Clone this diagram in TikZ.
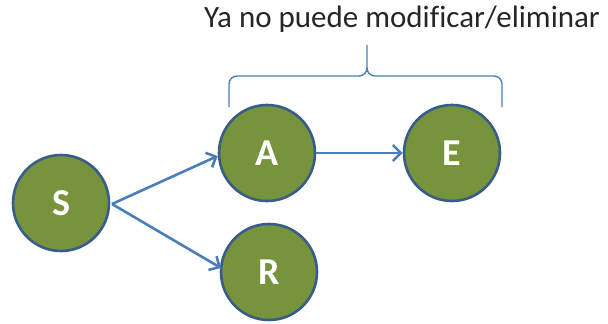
\documentclass[tikz,border=0pt]{standalone}
\usepackage{fontspec}
\setmainfont[Ligatures=NoCommon]{Carlito}
\usetikzlibrary{arrows.meta}
\definecolor{nodefill}{HTML}{77933C}
\definecolor{nodeline}{HTML}{385D8A}
\definecolor{arrowc}{HTML}{4A7EBB}
\tikzset{
  vert/.style={circle, fill=nodefill, draw=nodeline, line width=2.6pt, minimum size=96pt, inner sep=0pt, text=white, font=\bfseries\fontsize{38}{40}\selectfont},
  conn/.style={draw=arrowc, line width=2.6pt, -{Straight Barb[length=8pt,width=16pt,line width=2.6pt]}},
  bracec/.style={draw=arrowc, line width=1.4pt}
}
\begin{document}
\begin{tikzpicture}[x=1pt,y=-1pt]
\useasboundingbox (0,0) rectangle (608,324);
\node[vert] (S) at (61,203) {S};
\node[vert] (A) at (267,153) {A};
\node[vert] (R) at (269,272) {R};
\node[vert] (E) at (452,153) {E};
\coordinate (Sout) at (112,204);
\draw[conn] (Sout) -- (A.west |- 0,156) ;
\draw[conn] (Sout) -- (221,268);
\draw[conn] (A.east) -- (E.west);
\coordinate (bl) at (229,107);
\coordinate (br) at (502,107);
\coordinate (bt) at (367,45);
\draw[bracec] (bl) -- (229,84) to[out=90,in=180] (237,76) -- (359,76) to[out=0,in=-90] (367,68) -- (bt);
\draw[bracec] (br) -- (502,84) to[out=90,in=0] (494,76) -- (375,76) to[out=180,in=-90] (367,68);
\node[font=\fontsize{31}{34}\selectfont, text=black!85, anchor=center] (T) at (402,19) {Ya no puede modificar/eliminar};
\end{tikzpicture}
\end{document}
